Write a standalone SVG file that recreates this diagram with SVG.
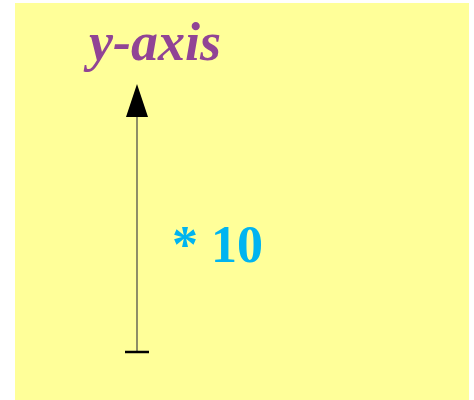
<svg xmlns="http://www.w3.org/2000/svg" width="474" height="400" viewBox="0 0 474 400">
<style>
.t{font-family:"Liberation Serif","Times New Roman",serif;font-weight:bold}
</style>
<rect x="0" y="0" width="474" height="400" fill="#ffffff"/>
<rect x="15" y="3" width="454" height="397" fill="#ffff99"/>
<g id="label-yaxis"><text class="t" x="89" y="60" font-size="54" font-style="italic" fill="#914495">y-axis</text></g>
<g id="label-scale"><text class="t" x="172" y="262" font-size="52" fill="#00b4f0">* 10</text></g>
<g id="connectors">
<line x1="137" y1="352" x2="137" y2="112" stroke="#444" stroke-width="1.2"/>
<polygon points="137,84 148,117 126,117" fill="#000"/>
<line x1="125" y1="352" x2="149" y2="352" stroke="#000" stroke-width="2.5"/>
</g>
</svg>
